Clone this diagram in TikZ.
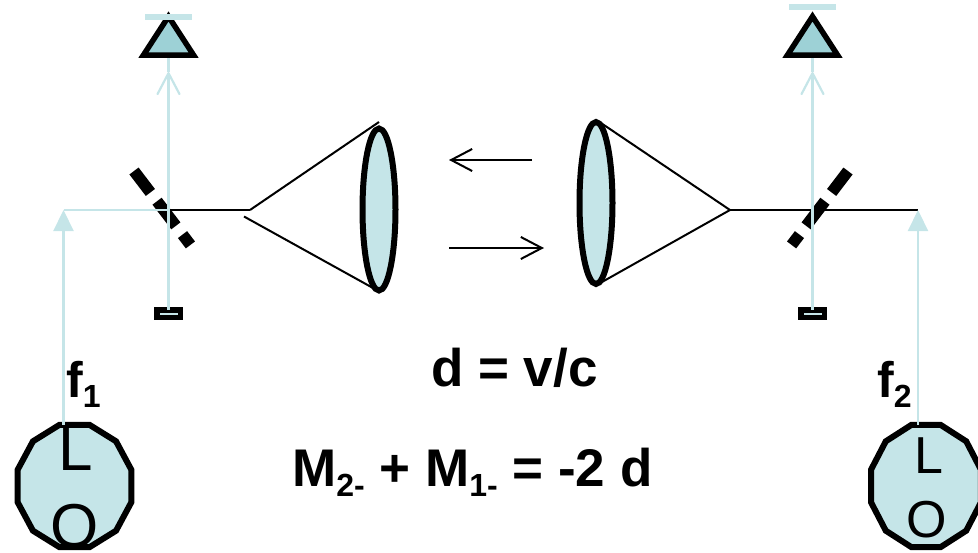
\documentclass[tikz,border=0pt]{standalone}
\usepackage{fontspec}
\setmainfont{Liberation Sans}
\usetikzlibrary{arrows.meta,shapes.geometric}
\definecolor{beamblue}{RGB}{197,229,232}
\definecolor{detblue}{RGB}{157,209,214}
\newcommand{\lowidx}[1]{\raisebox{-10pt}{\fontsize{32}{32}\selectfont #1}}
\begin{document}
\begin{tikzpicture}[x=1pt,y=-1pt,
      beam/.style={beamblue,line width=2.2pt},
      ray/.style={black,line width=2pt},
      sigbeam/.style={beam,-{Straight Barb[length=21pt,width=22pt,round]}},
      lobeam/.style={beam,-{Triangle[length=21pt,width=20pt]}},
      flow/.style={ray,-{Straight Barb[length=21pt,width=22pt]}},
      splitter/.style={black,line width=11.5pt,dash pattern=on 27pt off 11pt on 31pt off 11pt on 13pt},
      detector/.style={isosceles triangle,isosceles triangle stretches,shape border rotate=90,
                    minimum height=38.5pt,minimum width=50pt,inner sep=0pt,outer sep=0pt,anchor=apex,
                    draw=black,fill=detblue,line width=5.5pt},
      detbar/.style={fill=beamblue,minimum width=47pt,minimum height=5.5pt,inner sep=0pt},
      dump/.style={draw=black,fill=beamblue,line width=5.5pt,minimum width=23.5pt,
                    minimum height=7.5pt,inner sep=0pt,outer sep=0pt},
      lens/.style={ellipse,draw=black,fill=beamblue,line width=6pt,minimum width=33pt,
                    minimum height=162pt,inner sep=0pt,outer sep=0pt},
      osc/.style={regular polygon,regular polygon sides=12,draw=black,fill=beamblue,
                    line width=6pt,minimum size=126.4pt,inner sep=0pt,outer sep=0pt},
      eqn/.style={anchor=base west,inner sep=0pt,font=\fontsize{53}{57}\selectfont\bfseries}]
    \useasboundingbox (0,0) rectangle (978,552);

    % ---- Left arm ------------------
    \node[detector] (det1) at (168.5,16.5) {};
    \node[detbar] (bar1) at (168.5,17) {};
    \node[dump] (dump1) at (168.5,313.5) {};
    \node[osc,xscale=0.93] (lo1) at (74.5,486) {};
    \node[anchor=base,inner sep=0pt,font=\fontsize{62}{62}\selectfont] (l1) at (76,470) {L};
    \node[anchor=base,inner sep=0pt,font=\fontsize{62}{62}\selectfont] (o1) at (75,547) {O};
    \coordinate (cross1) at (168.5,210);
    \coordinate (turn1) at (63.5,210);
    \coordinate (tip1) at (168.5,72);
    \coordinate (apex1) at (250,210);
    \coordinate (split1a) at (134,171);
    \coordinate (split1b) at (192,247);
    \draw[ray] (cross1) -- (apex1);
    \draw[splitter] (split1a) -- (split1b);
    \draw[beam] (turn1) -- (cross1);
    \draw[lobeam] (turn1 |- lo1.north) -- (turn1);
    \draw[sigbeam] (dump1) -- (tip1);
    \draw[beam] (tip1) -- ([yshift=-3pt]det1.south);
    \node[anchor=base west,inner sep=0pt,font=\fontsize{50}{50}\selectfont\bfseries] (f1) at (66,397) {f\lowidx{1}};

    % ---- Left lens ------------------
    \node[lens] (lens1) at (379,209.5) {};
    \coordinate (rim1a) at (379,122);
    \coordinate (rim1b) at (373,288);
    \coordinate (apex1b) at (244,216.5);
    \draw[ray] (apex1) -- (rim1a);
    \draw[ray] (apex1b) -- (rim1b);

    % ---- Right lens -----------------
    \node[lens] (lens2) at (596,203) {};
    \coordinate (apex2) at (730,210);
    \coordinate (rim2a) at (598,121);
    \coordinate (rim2b) at (602,282);
    \draw[ray] (rim2a) -- (apex2);
    \draw[ray] (rim2b) -- (apex2);

    % ---- Right arm ------------------
    \node[detector] (det2) at (812.5,16.5) {};
    \node[detbar] (bar2) at (812.5,7) {};
    \node[dump] (dump2) at (812.5,313.5) {};
    \node[osc,xscale=0.9] (lo2) at (926,486) {};
    \node[anchor=base,inner sep=0pt,font=\fontsize{52}{52}\selectfont] (l2) at (929,473) {L};
    \node[anchor=base,inner sep=0pt,font=\fontsize{52}{52}\selectfont] (o2) at (927,537) {O};
    \coordinate (cross2) at (812.5,210);
    \coordinate (turn2) at (918,210);
    \coordinate (tip2) at (812.5,72);
    \coordinate (split2a) at (848,171);
    \coordinate (split2b) at (790,247);
    \draw[ray] (apex2) -- (turn2);
    \draw[splitter] (split2a) -- (split2b);
    \draw[lobeam] (turn2 |- lo2.north) -- (turn2);
    \draw[sigbeam] (dump2) -- (tip2);
    \draw[beam] (tip2) -- ([yshift=-3pt]det2.south);
    \node[anchor=base west,inner sep=0pt,font=\fontsize{50}{50}\selectfont\bfseries] (f2) at (877,397) {f\lowidx{2}};

    % ---- Middle arrows and text -----
    \coordinate (backa) at (532,160);
    \coordinate (backb) at (449,160);
    \coordinate (forea) at (449,248);
    \coordinate (foreb) at (544,248);
    \draw[flow] (backa) -- (backb);
    \draw[flow] (forea) -- (foreb);
    \node[eqn] (vel) at (431,386) {d = v/c};
    \node[eqn] (sum) at (292,486) {M\lowidx{2-} + M\lowidx{1-} = -2 d};
\end{tikzpicture}
\end{document}
